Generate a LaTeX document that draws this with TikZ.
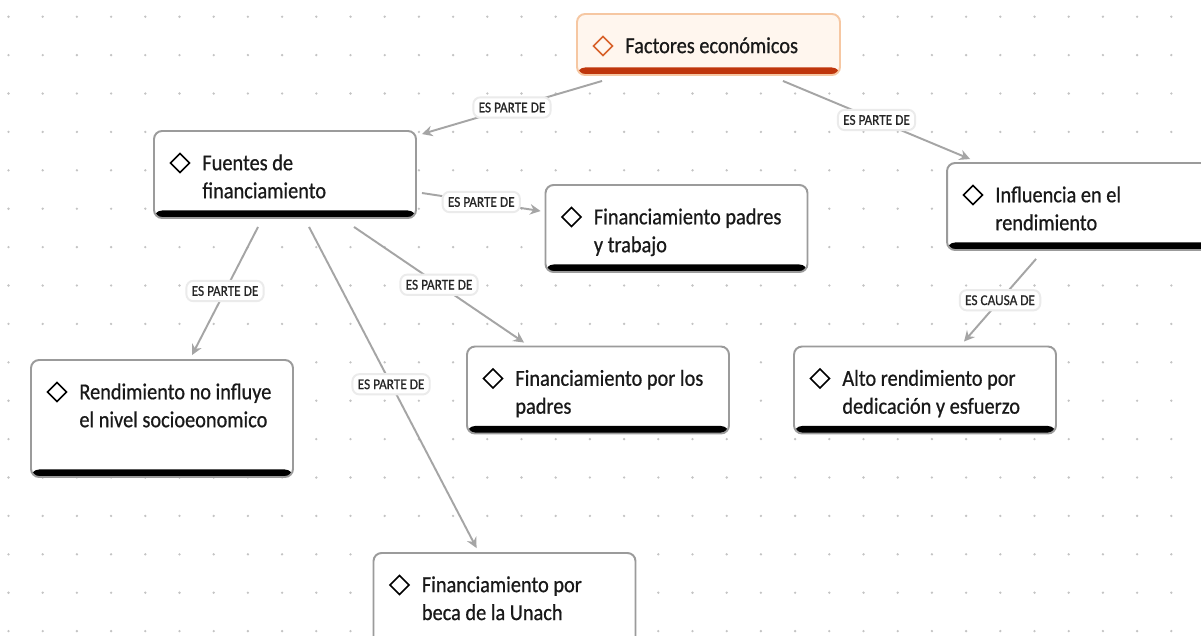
\documentclass[tikz,border=0pt]{standalone}
\usepackage{fontspec}
\setmainfont{Carlito}[FakeStretch=0.89, FakeBold=0.7]
\usetikzlibrary{arrows.meta}

\definecolor{dotgray}{HTML}{C4C4C4}
\definecolor{boxgray}{HTML}{9B9B9B}
\definecolor{linegray}{HTML}{A5A5A5}
\definecolor{rootfill}{HTML}{FFF6EE}
\definecolor{rootline}{HTML}{F6C7A2}
\definecolor{rootbar}{HTML}{BF360C}
\definecolor{rooticon}{HTML}{D8622B}

% bottom bar and diamond icon of a box
\newcommand{\boxdeco}[2]{%
  \fill[#1] (path picture bounding box.south west) rectangle ([yshift=0.15cm]path picture bounding box.south east);
  \draw[#2, sharp corners, line width=0.9pt, line join=miter]
    ([xshift=0.33cm,yshift=-0.64cm]path picture bounding box.north west)
    -- ++(0.19cm,0.19cm) -- ++(0.19cm,-0.19cm) -- ++(-0.19cm,-0.19cm) -- cycle;
}

\tikzset{
  concept/.style={draw=boxgray, line width=1.1pt, fill=white, rounded corners=0.16cm,
    minimum width=5.24cm, minimum height=1.74cm, inner sep=0pt,
    path picture={\boxdeco{black}{black}}},
  root/.style={draw=rootline, line width=1.1pt, fill=rootfill, rounded corners=0.16cm,
    minimum width=5.26cm, minimum height=1.22cm, inner sep=0pt,
    path picture={\boxdeco{rootbar}{rooticon}}},
  ctext/.style={anchor=north west, inner sep=0pt, align=left,
    font=\fontsize{13}{15.9}\selectfont, text=black!90},
  rel/.style={draw=linegray, line width=1.1pt, -{Stealth[length=6pt,width=6pt,inset=2pt]}},
  rellabel/.style={fill=white, draw=black!8, rounded corners=0.14cm, inner sep=3pt,
    font=\fontsize{8.5}{10}\selectfont, text=black!85}
}

\begin{document}
\begin{tikzpicture}[x=0.02cm, y=-0.02cm]
\fill[white] (0,0) rectangle (1201,636);
\useasboundingbox (0,0) rectangle (1201,636);

% dot grid
\foreach \i in {0,...,34} {
  \foreach \j in {0,...,16} {
    \fill[dotgray] (8.5+34.2*\i,16.7+38.4*\j) circle[radius=0.026cm];
  }
}

% boxes
\node[root] (factores) at (708.5,44.5) {};
\node[concept] (fuentes) at (285,174.5) {};
\node[concept] (trabajo) at (676.5,228.5) {};
\node[concept] (influencia) at (1078,206.5) {};
\node[concept, minimum height=2.34cm] (rendnoinf) at (162,418.5) {};
\node[concept] (porpadres) at (598,390) {};
\node[concept] (alto) at (925,390) {};
\node[concept, minimum height=2.2cm] (beca) at (504.5,608) {};

% texts
\node[ctext] (factores-t) at ([xshift=0.98cm,yshift=-0.48cm]factores.north west) {Factores económicos};
\node[ctext] (fuentes-t) at ([xshift=0.98cm,yshift=-0.48cm]fuentes.north west) {Fuentes de\\financiamiento};
\node[ctext] (trabajo-t) at ([xshift=0.98cm,yshift=-0.48cm]trabajo.north west) {Financiamiento padres\\y trabajo};
\node[ctext] (influencia-t) at ([xshift=0.98cm,yshift=-0.48cm]influencia.north west) {Influencia en el\\rendimiento};
\node[ctext] (rendnoinf-t) at ([xshift=0.98cm,yshift=-0.48cm]rendnoinf.north west) {Rendimiento no influye\\el nivel socioeonomico};
\node[ctext] (porpadres-t) at ([xshift=0.98cm,yshift=-0.48cm]porpadres.north west) {Financiamiento por los\\padres};
\node[ctext] (alto-t) at ([xshift=0.98cm,yshift=-0.48cm]alto.north west) {Alto rendimiento por\\dedicación y esfuerzo};
\node[ctext] (beca-t) at ([xshift=0.98cm,yshift=-0.48cm]beca.north west) {Financiamiento por\\beca de la Unach};

% relations
\draw[rel] ([xshift=0.52cm,yshift=-0.1cm]factores.south west) -- node[rellabel] {ES PARTE DE} ([xshift=0.1cm,yshift=-0.08cm]fuentes.north east);
\draw[rel] ([xshift=-1.16cm,yshift=-0.1cm]factores.south east) -- node[rellabel] {ES PARTE DE} ([xshift=0.48cm,yshift=0.06cm]influencia.north west);
\draw[rel] ([xshift=0.1cm,yshift=-0.37cm]fuentes.east) -- node[rellabel] {ES PARTE DE} ([xshift=-0.08cm,yshift=0.35cm]trabajo.west);
\draw[rel] ([xshift=2.1cm,yshift=-0.16cm]fuentes.south west) -- node[rellabel] {ES PARTE DE} ([xshift=3.24cm,yshift=0.08cm]rendnoinf.north west);
\draw[rel] ([xshift=4.02cm,yshift=-0.16cm]fuentes.south west) -- node[rellabel] {ES PARTE DE} ([xshift=1.16cm,yshift=0.06cm]porpadres.north west);
\draw[rel] ([xshift=3.12cm,yshift=-0.16cm]fuentes.south west) -- node[rellabel, pos=0.49] {ES PARTE DE} ([xshift=2.08cm,yshift=0.08cm]beca.north west);
\draw[rel] ([xshift=1.8cm,yshift=-0.16cm]influencia.south west) -- node[rellabel] {ES CAUSA DE} ([xshift=3.42cm,yshift=0.08cm]alto.north west);
\end{tikzpicture}
\end{document}
